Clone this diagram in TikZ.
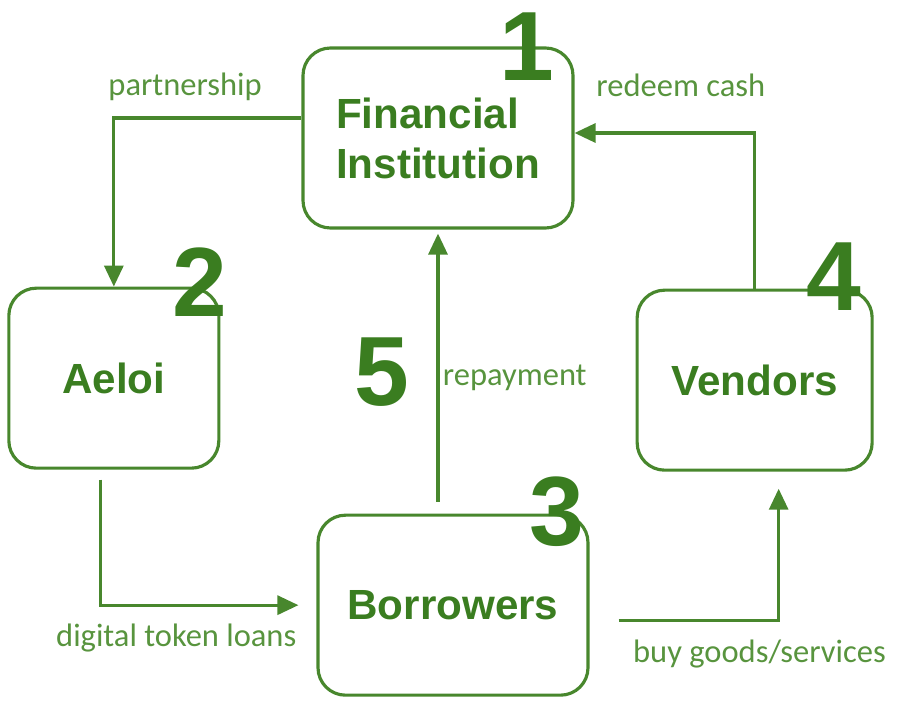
\documentclass[tikz,border=0pt]{standalone}
\usepackage{fontspec}
\setmainfont{Liberation Sans}
\newfontfamily\calibrifont{Carlito}
\usetikzlibrary{arrows.meta, positioning}

\definecolor{boxgreen}{RGB}{72,135,45}
\definecolor{textgreen}{RGB}{58,125,32}
\definecolor{labelgreen}{RGB}{88,148,62}

\begin{document}
\begin{tikzpicture}[>={Triangle[length=4.2mm, width=3.8mm]}, line width=1.8pt,
  block/.style={draw=boxgreen, rectangle, minimum height=3.6cm, minimum width=5.4cm, text centered, rounded corners=0.55cm, align=center, text=textgreen, font=\fontsize{24}{28.5}\selectfont\bfseries},
  stepnum/.style={text=textgreen, inner sep=0pt, font=\fontsize{56}{56}\selectfont\bfseries},
  flow/.style={->, draw=boxgreen},
  lbl/.style={text=labelgreen, font=\calibrifont\fontsize{18.5}{20}\selectfont}]

  \useasboundingbox (0,0) rectangle (18,-14.14);

  % Nodos principales
  \node [block, align=left] (fin) at (8.76,-2.76) {Financial\\Institution};
  \node [block, minimum width=4.2cm, below left=1.14cm and 1.62cm of fin] (aeloi) {Aeloi};
  \node [block, minimum width=4.7cm, below right=1.18cm and 1.22cm of fin] (vendors) {Vendors};
  \node [block, below=5.68cm of fin, xshift=0.3cm] (borrowers) {Borrowers};

  % Numeros de paso
  \node [stepnum] (n1) at ([xshift=-0.96cm]fin.north east) {1};
  \node [stepnum] (n2) at ([xshift=-0.42cm, yshift=0.08cm]aeloi.north east) {2};
  \node [stepnum] (n3) at ([xshift=-0.66cm, yshift=0.04cm]borrowers.north east) {3};
  \node [stepnum] (n4) at ([xshift=-0.8cm, yshift=0.24cm]vendors.north east) {4};
  \node [stepnum] (n5) at ([xshift=-1.12cm, yshift=-2.86cm]fin.south) {5};

  % Conexiones
  \draw [flow] ([yshift=0.4cm]fin.west) -| node[lbl, pos=0.31, above=0.2cm] {partnership} (aeloi.north);
  \draw [flow] (vendors.north) |- node[lbl, pos=0.705, above=0.58cm] {redeem cash} ([yshift=0.1cm]fin.east);
  \draw [flow, shorten >=0.08cm] ([yshift=0.24cm]borrowers.north -| fin.south) -- node[lbl, pos=0.456, right=-0.05cm] {repayment} (fin.south);
  \draw [flow, shorten >=0.36cm] ([xshift=-0.26cm, yshift=-0.2cm]aeloi.south) |- node[lbl, pos=0.675, below=0.23cm] {digital token loans} (borrowers.west);
  \draw [flow, shorten >=0.34cm] ([xshift=0.58cm, yshift=-0.3cm]borrowers.east) -| node[lbl, pos=0.44, below=0.25cm] {buy goods/services} ([xshift=0.48cm]vendors.south);
\end{tikzpicture}
\end{document}
